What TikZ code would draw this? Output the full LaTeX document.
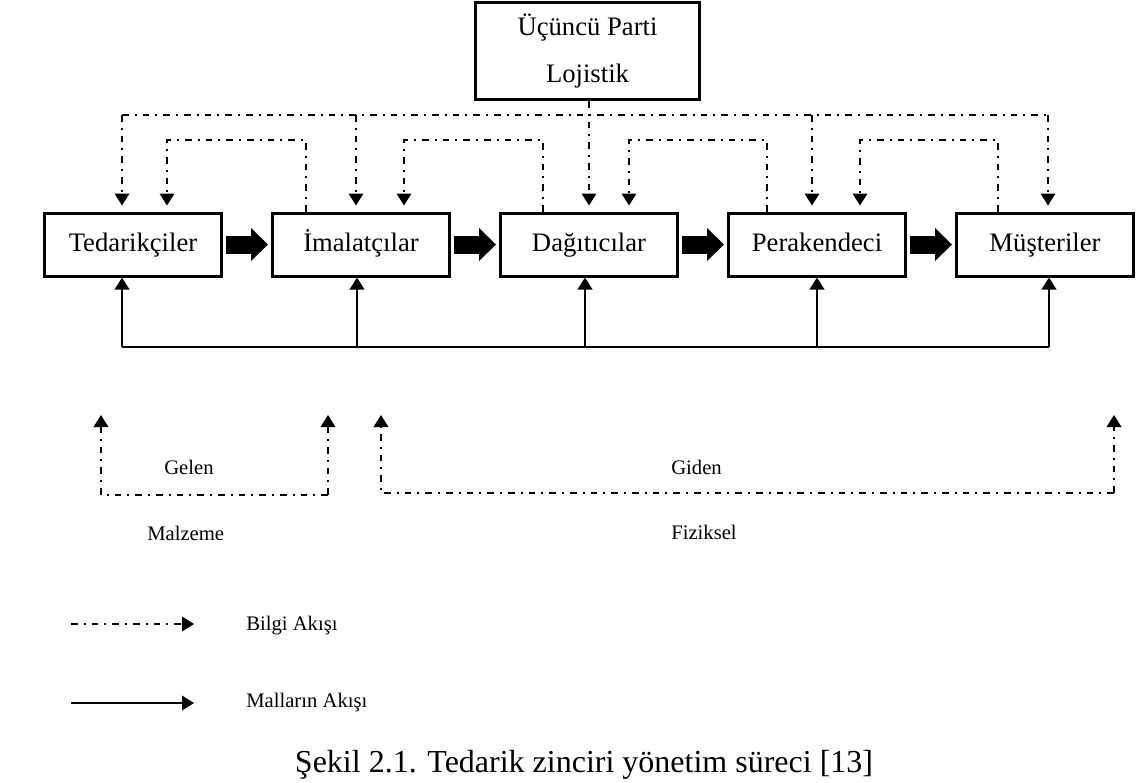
\documentclass[tikz,border=0pt]{standalone}
\usepackage{fontspec}
\setmainfont{Liberation Serif}
\usetikzlibrary{arrows.meta,positioning}

\begin{document}
\begin{tikzpicture}
[x=0.75pt,y=-0.75pt]
\tikzset{
	box/.style = {draw, line width=2.25pt, minimum width=132.75pt, minimum height=47.25pt, inner sep=0, text height=15pt, text depth=4.5pt, font=\fontsize{20}{24}\selectfont},
	info/.style = {line width=1.1pt, dash pattern=on 5pt off 4.5pt on 1.5pt off 4.5pt, -{Triangle[width=11pt,length=9pt]}},
	drop/.style = {info, shorten >=4.5pt},
	goods/.style = {line width=1.1pt, -{Triangle[width=11pt,length=9pt]}},
	push/.style = {line width=13.5pt, shorten <=2.25pt, shorten >=2.25pt, -{Triangle[width=24pt,length=12.75pt]}},
	small/.style = {font=\fontsize{15.5}{18}\selectfont, inner sep=0, anchor=west}
}
\useasboundingbox (0,0) rectangle (1141,782);

\node(tpl) [box, minimum width=168pt, minimum height=72.75pt, align=center, text height=, text depth=, font=\fontsize{20}{35.25}\selectfont] at (587.5,51) {Üçüncü Parti\\Lojistik};

\node(ted) [box] at (133,244.5) {Tedarikçiler};
\node(ima) [box, right=36pt of ted] {İmalatçılar};
\node(dag) [box, right=36pt of ima] {Dağıtıcılar};
\node(per) [box, right=36pt of dag] {Perakendeci};
\node(mus) [box, right=36pt of per] {Müşteriler};

\draw [push] (ted) -- (ima);
\draw [push] (ima) -- (dag);
\draw [push] (dag) -- (per);
\draw [push] (per) -- (mus);

\draw [info,-] (122,115) -- (1048,115);
\draw [drop] (dag.north |- tpl.south) -- (dag.north);
\foreach \x/\n in {122/ted,356/ima,812/per,1048/mus}
	\draw [drop] (\x,115) -- (\x,0 |- \n.north);

\draw [drop] (306,0 |- ima.north) |- (167,140) -- (167,0 |- ted.north);
\draw [drop] (543,0 |- dag.north) |- (404,140) -- (404,0 |- ima.north);
\draw [drop] (767,0 |- per.north) |- (629,140) -- (629,0 |- dag.north);
\draw [drop] (998,0 |- mus.north) |- (860,140) -- (860,0 |- per.north);

\draw [line width=1.1pt] (122,347) -- (1049,347);
\foreach \x/\n in {122/ted,357/ima,585/dag,817/per,1049/mus}
	\draw [goods] (\x,347) -- (\x,0 |- \n.south);

\coordinate (inA) at (101,415);
\coordinate (inB) at (328,415);
\coordinate (outA) at (381,415);
\coordinate (outB) at (1114,415);
\draw [info] (328,495) -| (inA);
\draw [info] (328,495) -- (inB);
\draw [info] (1114,493) -| (outA);
\draw [info] (1114,493) -- (outB);

\node(gelen) [small] at (164,467) {Gelen};
\node(malzeme) [small] at (147,533) {Malzeme};
\node(giden) [small] at (671,467) {Giden};
\node(fiziksel) [small] at (671,532) {Fiziksel};

\coordinate (keyI) at (194,624);
\coordinate (keyG) at (194,703);
\draw [info] (71,624) -- (keyI);
\draw [goods] (71,703) -- (keyG);
\node(bilgi) [small] at (246,626) {Bilgi Akışı};
\node(mal) [small] at (246,703) {Malların Akışı};

\node(caption) [font=\fontsize{24}{28}\selectfont, anchor=base, inner sep=0] at (584,772) {Şekil 2.1. Tedarik zinciri yönetim süreci [13]};
\end{tikzpicture}
\end{document}
